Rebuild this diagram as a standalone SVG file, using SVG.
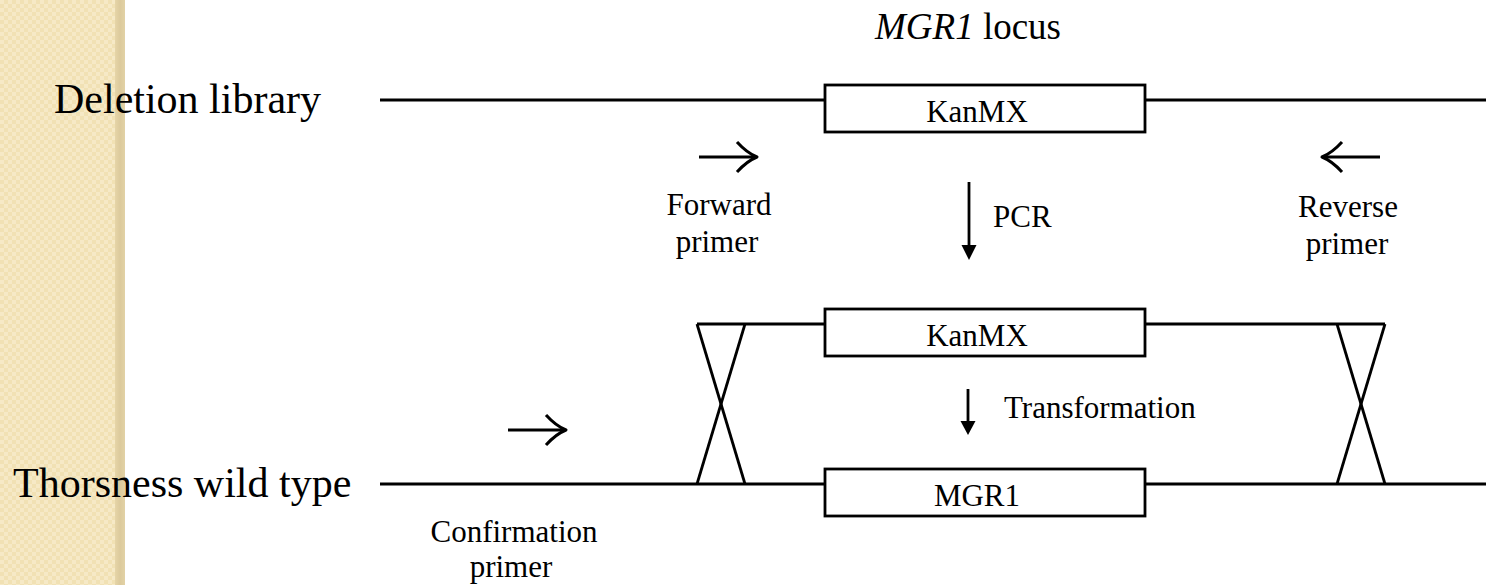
<svg xmlns="http://www.w3.org/2000/svg" width="1486" height="585" viewBox="0 0 1486 585">
  <style>
    .ln { stroke: #000; stroke-width: 2.8; fill: none; }
    .box { stroke: #000; stroke-width: 2.8; fill: #fff; }
    .big { font-family: "Liberation Serif", "Times New Roman", serif; font-size: 42px; fill: #000; }
    .sm { font-family: "Liberation Serif", "Times New Roman", serif; font-size: 31px; fill: #000; }
    .mid { text-anchor: middle; }
    .prim { stroke: #000; stroke-width: 3; fill: none; stroke-linecap: butt; stroke-linejoin: round; }
  </style>
  <defs>
    <pattern id="chk" width="8" height="8" patternUnits="userSpaceOnUse">
      <rect width="8" height="8" fill="#F1E1B4"/>
      <rect x="0" y="0" width="4" height="4" fill="#F6E9C6"/>
      <rect x="4" y="4" width="4" height="4" fill="#F6E9C6"/>
    </pattern>
    <linearGradient id="edge" x1="0" x2="1" y1="0" y2="0">
      <stop offset="0" stop-color="#E6D5A8"/>
      <stop offset="0.5" stop-color="#DCCA9C"/>
      <stop offset="1" stop-color="#E2D2A6"/>
    </linearGradient>
    <g id="rarrow">
      <path d="M -58,0 L -2,0" class="prim"/>
      <path d="M -20,-15 Q -10,-4 0,0 Q -10,4 -20,15" class="prim"/>
    </g>
  </defs>
  <rect width="1486" height="585" fill="#fff"/>
  <g id="sidebar">
    <rect x="0" y="0" width="116" height="585" fill="url(#chk)"/>
    <rect x="115" y="0" width="10" height="585" fill="url(#edge)"/>
  </g>

  <g id="title">
    <text class="big" x="875" y="39" style="font-size:37px"><tspan font-style="italic">MGR1</tspan> locus</text>
  </g>
  <g id="label-deletion">
    <text class="big" x="54" y="113">Deletion library</text>
  </g>
  <g id="label-thorsness">
    <text class="big" x="13" y="497">Thorsness wild type</text>
  </g>

  <g id="connectors">
    <!-- deletion library locus -->
    <line class="ln" x1="380" y1="100" x2="825" y2="100"/>
    <line class="ln" x1="1145" y1="100" x2="1486" y2="100"/>
    <!-- PCR product -->
    <line class="ln" x1="697" y1="324" x2="825" y2="324"/>
    <line class="ln" x1="1145" y1="324" x2="1385" y2="324"/>
    <!-- wild type -->
    <line class="ln" x1="380" y1="484" x2="825" y2="484"/>
    <line class="ln" x1="1145" y1="484" x2="1486" y2="484"/>
    <!-- crossovers -->
    <line class="ln" x1="697" y1="324" x2="745" y2="484"/>
    <line class="ln" x1="745" y1="324" x2="697" y2="484"/>
    <line class="ln" x1="1337" y1="324" x2="1385" y2="484"/>
    <line class="ln" x1="1385" y1="324" x2="1337" y2="484"/>
    <!-- PCR arrow -->
    <line class="ln" x1="969" y1="182" x2="969" y2="248"/>
    <polygon points="961.5,245 976.5,245 969,260" fill="#000"/>
    <!-- Transformation arrow -->
    <line class="ln" x1="968" y1="389" x2="968" y2="424"/>
    <polygon points="960.5,421 975.5,421 968,435" fill="#000"/>
  </g>

  <g id="kanmx-top">
    <rect class="box" x="825" y="85" width="320" height="47"/>
    <text class="sm mid" x="977" y="122">KanMX</text>
  </g>
  <g id="kanmx-pcr">
    <rect class="box" x="825" y="309" width="320" height="47"/>
    <text class="sm mid" x="977" y="346">KanMX</text>
  </g>
  <g id="mgr1-box">
    <rect class="box" x="825" y="469" width="320" height="47"/>
    <text class="sm mid" x="977" y="506">MGR1</text>
  </g>

  <g id="label-pcr">
    <text class="sm" x="993" y="227">PCR</text>
  </g>
  <g id="label-transformation">
    <text class="sm" x="1004" y="418">Transformation</text>
  </g>

  <g id="forward-primer">
    <use href="#rarrow" x="757" y="157"/>
    <text class="sm mid" x="719" y="215">Forward</text>
    <text class="sm mid" x="717" y="252">primer</text>
  </g>
  <g id="reverse-primer">
    <use href="#rarrow" transform="translate(1322,157) rotate(180)"/>
    <text class="sm mid" x="1348" y="217">Reverse</text>
    <text class="sm mid" x="1347" y="254">primer</text>
  </g>
  <g id="confirmation-primer">
    <use href="#rarrow" x="566" y="430"/>
    <text class="sm mid" x="514" y="542">Confirmation</text>
    <text class="sm mid" x="511" y="577">primer</text>
  </g>
</svg>
